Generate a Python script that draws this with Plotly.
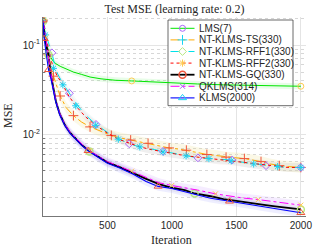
import plotly.graph_objects as go

# ---------------- data ----------------
it_lms = [1, 10, 25, 40, 56, 80, 100, 133, 180, 236, 300, 365, 450, 560, 688, 800, 1000, 1200, 1400, 1600, 1800, 2000]
mse_lms = [0.19, 0.15, 0.11, 0.088, 0.074, 0.066, 0.062, 0.058, 0.054, 0.050, 0.047, 0.044, 0.042, 0.0405, 0.0398,
           0.039, 0.0378, 0.0368, 0.036, 0.0355, 0.035, 0.0347]
mk_lms = [1, 688, 2000]

it_ts = [1, 15, 40, 81, 133, 180, 236, 300, 365, 450, 530, 600, 680, 750, 815, 900, 978, 1050, 1112, 1200, 1271,
         1350, 1420, 1500, 1562, 1630, 1691, 1760, 1833, 1900, 2000]
mse_ts = [0.19, 0.13, 0.078, 0.045, 0.027, 0.02, 0.0163, 0.0138, 0.0122, 0.0108, 0.0098, 0.0092, 0.0087, 0.0083,
          0.0080, 0.0075, 0.0071, 0.0069, 0.0067, 0.0063, 0.0060, 0.0058, 0.0056, 0.0055, 0.0054, 0.0052, 0.0050,
          0.0047, 0.0045, 0.0044, 0.0043]
mk_ts = [1, 40, 81, 133, 236, 365, 530, 680, 815, 978, 1112, 1271, 1420, 1562, 1691, 1833, 2000]

it_r1 = [1, 30, 69, 100, 150, 205, 260, 330, 411, 500, 580, 669, 750, 840, 931, 1020, 1110, 1202, 1300, 1400,
         1466, 1550, 1640, 1730, 1820, 1900, 2000]
mse_r1 = [0.19, 0.12, 0.082, 0.052, 0.038, 0.029, 0.022, 0.0165, 0.013, 0.0106, 0.0091, 0.0079, 0.0073, 0.0069,
          0.0065, 0.0061, 0.0058, 0.0055, 0.0054, 0.0053, 0.0052, 0.0049, 0.0047, 0.0045, 0.0044, 0.0043, 0.0043]
mk_r1 = [1, 69, 205, 411, 669, 931, 1202, 1466, 1730, 2000]

it_r2 = [1, 20, 50, 81, 115, 154, 200, 254, 330, 409, 500, 584, 670, 751, 840, 931, 1020, 1110, 1200, 1287, 1370,
         1460, 1550, 1634, 1720, 1820, 1900, 2000]
mse_r2 = [0.19, 0.13, 0.08, 0.055, 0.044, 0.036, 0.027, 0.021, 0.0158, 0.0127, 0.0104, 0.0089, 0.0081, 0.0073,
          0.0068, 0.0064, 0.0061, 0.0058, 0.0056, 0.0054, 0.0052, 0.0051, 0.0049, 0.0047, 0.0046, 0.0044, 0.0043,
          0.0043]
mk_r2 = [1, 20, 81, 154, 254, 409, 584, 751, 931, 1110, 1287, 1460, 1634, 1820, 2000]

it_gq = [1, 10, 25, 42, 60, 80, 100, 130, 170, 210, 260, 300, 360, 430, 500, 600, 700, 800, 900, 1000, 1100, 1176,
         1300, 1400, 1500, 1600, 1700, 1800, 1900, 2000]
mse_gq = [0.185, 0.13, 0.10, 0.078, 0.048, 0.032, 0.0235, 0.017, 0.0128, 0.0105, 0.0087, 0.0077, 0.0065, 0.0056,
          0.0049, 0.0043, 0.0037, 0.0032, 0.0028, 0.00255, 0.0024, 0.0022, 0.00205, 0.0019, 0.00182, 0.00172,
          0.00165, 0.00158, 0.00152, 0.00146]
mk_gq = [1, 42, 360, 1176, 2000]

it_q = [1, 20, 40, 60, 80, 100, 130, 170, 210, 260, 300, 360, 430, 500, 600, 687, 800, 900, 998, 1100, 1200, 1338,
        1450, 1550, 1670, 1800, 1900, 2000]
mse_q = [0.19, 0.12, 0.08, 0.05, 0.033, 0.024, 0.0172, 0.013, 0.0107, 0.0089, 0.0079, 0.0066, 0.0057, 0.005,
         0.0044, 0.0039, 0.0033, 0.0029, 0.0027, 0.00255, 0.0024, 0.00218, 0.00205, 0.00196, 0.00188, 0.00178,
         0.0017, 0.00163]
mk_q = [1, 20, 360, 687, 998, 1338, 1670, 2000]

it_k = [1, 9, 25, 43, 60, 80, 100, 130, 170, 210, 260, 300, 350, 430, 500, 600, 700, 800, 893, 1000, 1100, 1200,
        1300, 1447, 1550, 1650, 1750, 1850, 2000]
mse_k = [0.19, 0.118, 0.08, 0.053, 0.043, 0.031, 0.023, 0.0167, 0.0126, 0.0103, 0.0086, 0.0076, 0.0066, 0.0055,
         0.0048, 0.0042, 0.0036, 0.0030, 0.00264, 0.0025, 0.0023, 0.0021, 0.00195, 0.0018, 0.0017, 0.0016,
         0.00152, 0.00145, 0.00134]
mk_k = [1, 9, 43, 350, 893, 1447, 2000]

names = ["LMS(7)", "NT-KLMS-TS(330)", "NT-KLMS-RFF1(330)", "NT-KLMS-RFF2(330)",
         "NT-KLMS-GQ(330)", "QKLMS(314)", "KLMS(2000)"]
x_tick_vals = [500, 1000, 1500, 2000]
y_tick_vals = [0.01, 0.1]
y_tick_text = ["10<sup>-2</sup>", "10<sup>-1</sup>"]
y_minor_vals = [k * 10 ** e for e in (-3, -2, -1) for k in range(2, 10)]

# ---------------- styles ----------------
series = [
    (it_lms, mse_lms, mk_lms, dict(color="rgb(0,230,0)", width=1, dash="solid"),
     dict(symbol="circle-open", size=6, line=dict(width=1, color="rgb(0,230,0)")), "rgba(110,240,110,0.16)", 1.08),
    (it_ts, mse_ts, mk_ts, dict(color="rgb(255,170,0)", width=1, dash="dashdot"),
     dict(symbol="cross-thin-open", size=7, line=dict(width=1, color="rgb(255,170,0)")), "rgba(235,225,140,0.22)", 1.15),
    (it_r1, mse_r1, mk_r1, dict(color="rgb(0,225,235)", width=1, dash="dash"),
     dict(symbol="diamond-open", size=6, line=dict(width=1, color="rgb(0,225,235)")), "rgba(170,220,220,0.14)", 1.12),
    (it_r2, mse_r2, mk_r2, dict(color="rgb(255,0,0)", width=1, dash="dot"),
     dict(symbol="asterisk-open", size=6, line=dict(width=1, color="rgb(255,0,0)")), "rgba(220,180,180,0.14)", 1.12),
    (it_gq, mse_gq, mk_gq, dict(color="black", width=1.8, dash="solid"),
     dict(symbol="circle-open", size=7, line=dict(width=1.5, color="black")), "rgba(150,150,150,0.10)", 1.10),
    (it_q, mse_q, mk_q, dict(color="rgb(255,0,255)", width=1, dash="dashdot"),
     dict(symbol="x-thin-open", size=5, line=dict(width=1, color="rgb(255,0,255)")), "rgba(200,150,255,0.18)", 1.12),
    (it_k, mse_k, mk_k, dict(color="rgb(0,0,255)", width=1.1, dash="solid"),
     dict(symbol="triangle-up-open", size=7, line=dict(width=1, color="rgb(0,0,255)")), "rgba(150,150,255,0.16)", 1.12),
]

L, R, T, B = 43, 26, 17, 33
W, H = 332, 249
XMAX = 2040
YLO, YHI = -2.909, -0.686


def px_to_x(px):
    return (px - L) / (W - L - R) * XMAX


def px_to_logy(py):
    return YHI - (py - T) / (H - T - B) * (YHI - YLO)


fig = go.Figure()

# legend box: a white filled rectangle drawn as the very first trace (above grid, below data)
bx0, bx1 = px_to_x(168), px_to_x(293)
by0, by1 = 10 ** px_to_logy(105.7), 10 ** px_to_logy(20)
fig.add_trace(go.Scatter(x=[bx0, bx1, bx1, bx0, bx0], y=[by0, by0, by1, by1, by0], mode="lines",
                         fill="toself", fillcolor="white", line=dict(color="#444444", width=0.8),
                         hoverinfo="skip", showlegend=False))

# shaded bands
for xs, ys, mk, ln, mkst, band, fac in series:
    up = [v * fac for v in ys]
    lo = [v / fac for v in ys]
    fig.add_trace(go.Scatter(x=xs + xs[::-1], y=up + lo[::-1], fill="toself", fillcolor=band,
                             line=dict(width=0), mode="lines", hoverinfo="skip", showlegend=False))

# lines and markers
for xs, ys, mk, ln, mkst, band, fac in series:
    fig.add_trace(go.Scatter(x=xs, y=ys, mode="lines", line=ln, showlegend=False))
    mx = [x for x in xs if x in mk]
    my = [y for x, y in zip(xs, ys) if x in mk]
    fig.add_trace(go.Scatter(x=mx, y=my, mode="markers", marker=mkst, showlegend=False))

# ---------------- manual legend (pixel-coordinate overlay axes) ----------------
row0, step = 28.3, 11.6
for i, (xs, ys, mk, ln, mkst, band, fac) in enumerate(series):
    yy = row0 + i * step
    fig.add_trace(go.Scatter(x=[170.5, 194.5], y=[yy, yy], mode="lines", line=ln,
                             xaxis="x2", yaxis="y2", showlegend=False, hoverinfo="skip"))
    fig.add_trace(go.Scatter(x=[182.5], y=[yy], mode="markers", marker=mkst,
                             xaxis="x2", yaxis="y2", showlegend=False, hoverinfo="skip"))
    fig.add_annotation(x=197, y=yy, xref="x2", yref="y2", text=names[i], showarrow=False,
                       xanchor="left", yanchor="middle",
                       font=dict(family="Liberation Sans, Arial", size=10, color="#262626"))

tickfont = dict(family="Liberation Sans, Arial", size=10, color="#262626")
fig.update_layout(
    width=W, height=H, margin=dict(l=L, r=R, t=T, b=B),
    paper_bgcolor="white", plot_bgcolor="white",
    title=dict(text="Test MSE (learning rate: 0.2)", x=0.5, xref="paper", y=1 - 8.5 / H, yref="container",
               xanchor="center", yanchor="middle",
               font=dict(family="Liberation Serif, Times New Roman", size=12, color="#262626")),
    xaxis=dict(range=[0, XMAX], tickvals=x_tick_vals, showgrid=True, gridcolor="rgb(228,228,228)", gridwidth=1,
               zeroline=False, showline=True, linecolor="#777777", linewidth=1, ticks="", tickfont=tickfont),
    yaxis=dict(type="log", range=[YLO, YHI], tickvals=y_tick_vals, ticktext=y_tick_text,
               showgrid=True, gridcolor="rgb(228,228,228)", gridwidth=1, zeroline=False,
               showline=True, linecolor="#777777", linewidth=1, ticks="", tickfont=tickfont,
               minor=dict(tickvals=y_minor_vals, showgrid=True, gridcolor="rgb(215,215,215)", griddash="dot",
                          ticks="inside", ticklen=2, tickcolor="#777777")),
    xaxis2=dict(range=[L, W - R], overlaying="x", visible=False, fixedrange=True),
    yaxis2=dict(range=[H - B, T], overlaying="y", visible=False, fixedrange=True),
    showlegend=False,
)

fig.add_annotation(x=(171.7 - L) / (W - L - R), y=(H - B - 240) / (H - T - B), xref="paper", yref="paper",
                   text="Iteration", showarrow=False, xanchor="center", yanchor="middle",
                   font=dict(family="Liberation Serif, Times New Roman", size=12, color="#262626"))
fig.add_annotation(x=(8 - L) / (W - L - R), y=(H - B - 116) / (H - T - B), xref="paper", yref="paper",
                   text="MSE", showarrow=False, textangle=-90, xanchor="center", yanchor="middle",
                   font=dict(family="Liberation Serif, Times New Roman", size=12, color="#262626"))

fig.write_html("out.html", config={"displayModeBar": False},
               post_script="document.body.style.margin='0';document.body.style.padding='0';")
